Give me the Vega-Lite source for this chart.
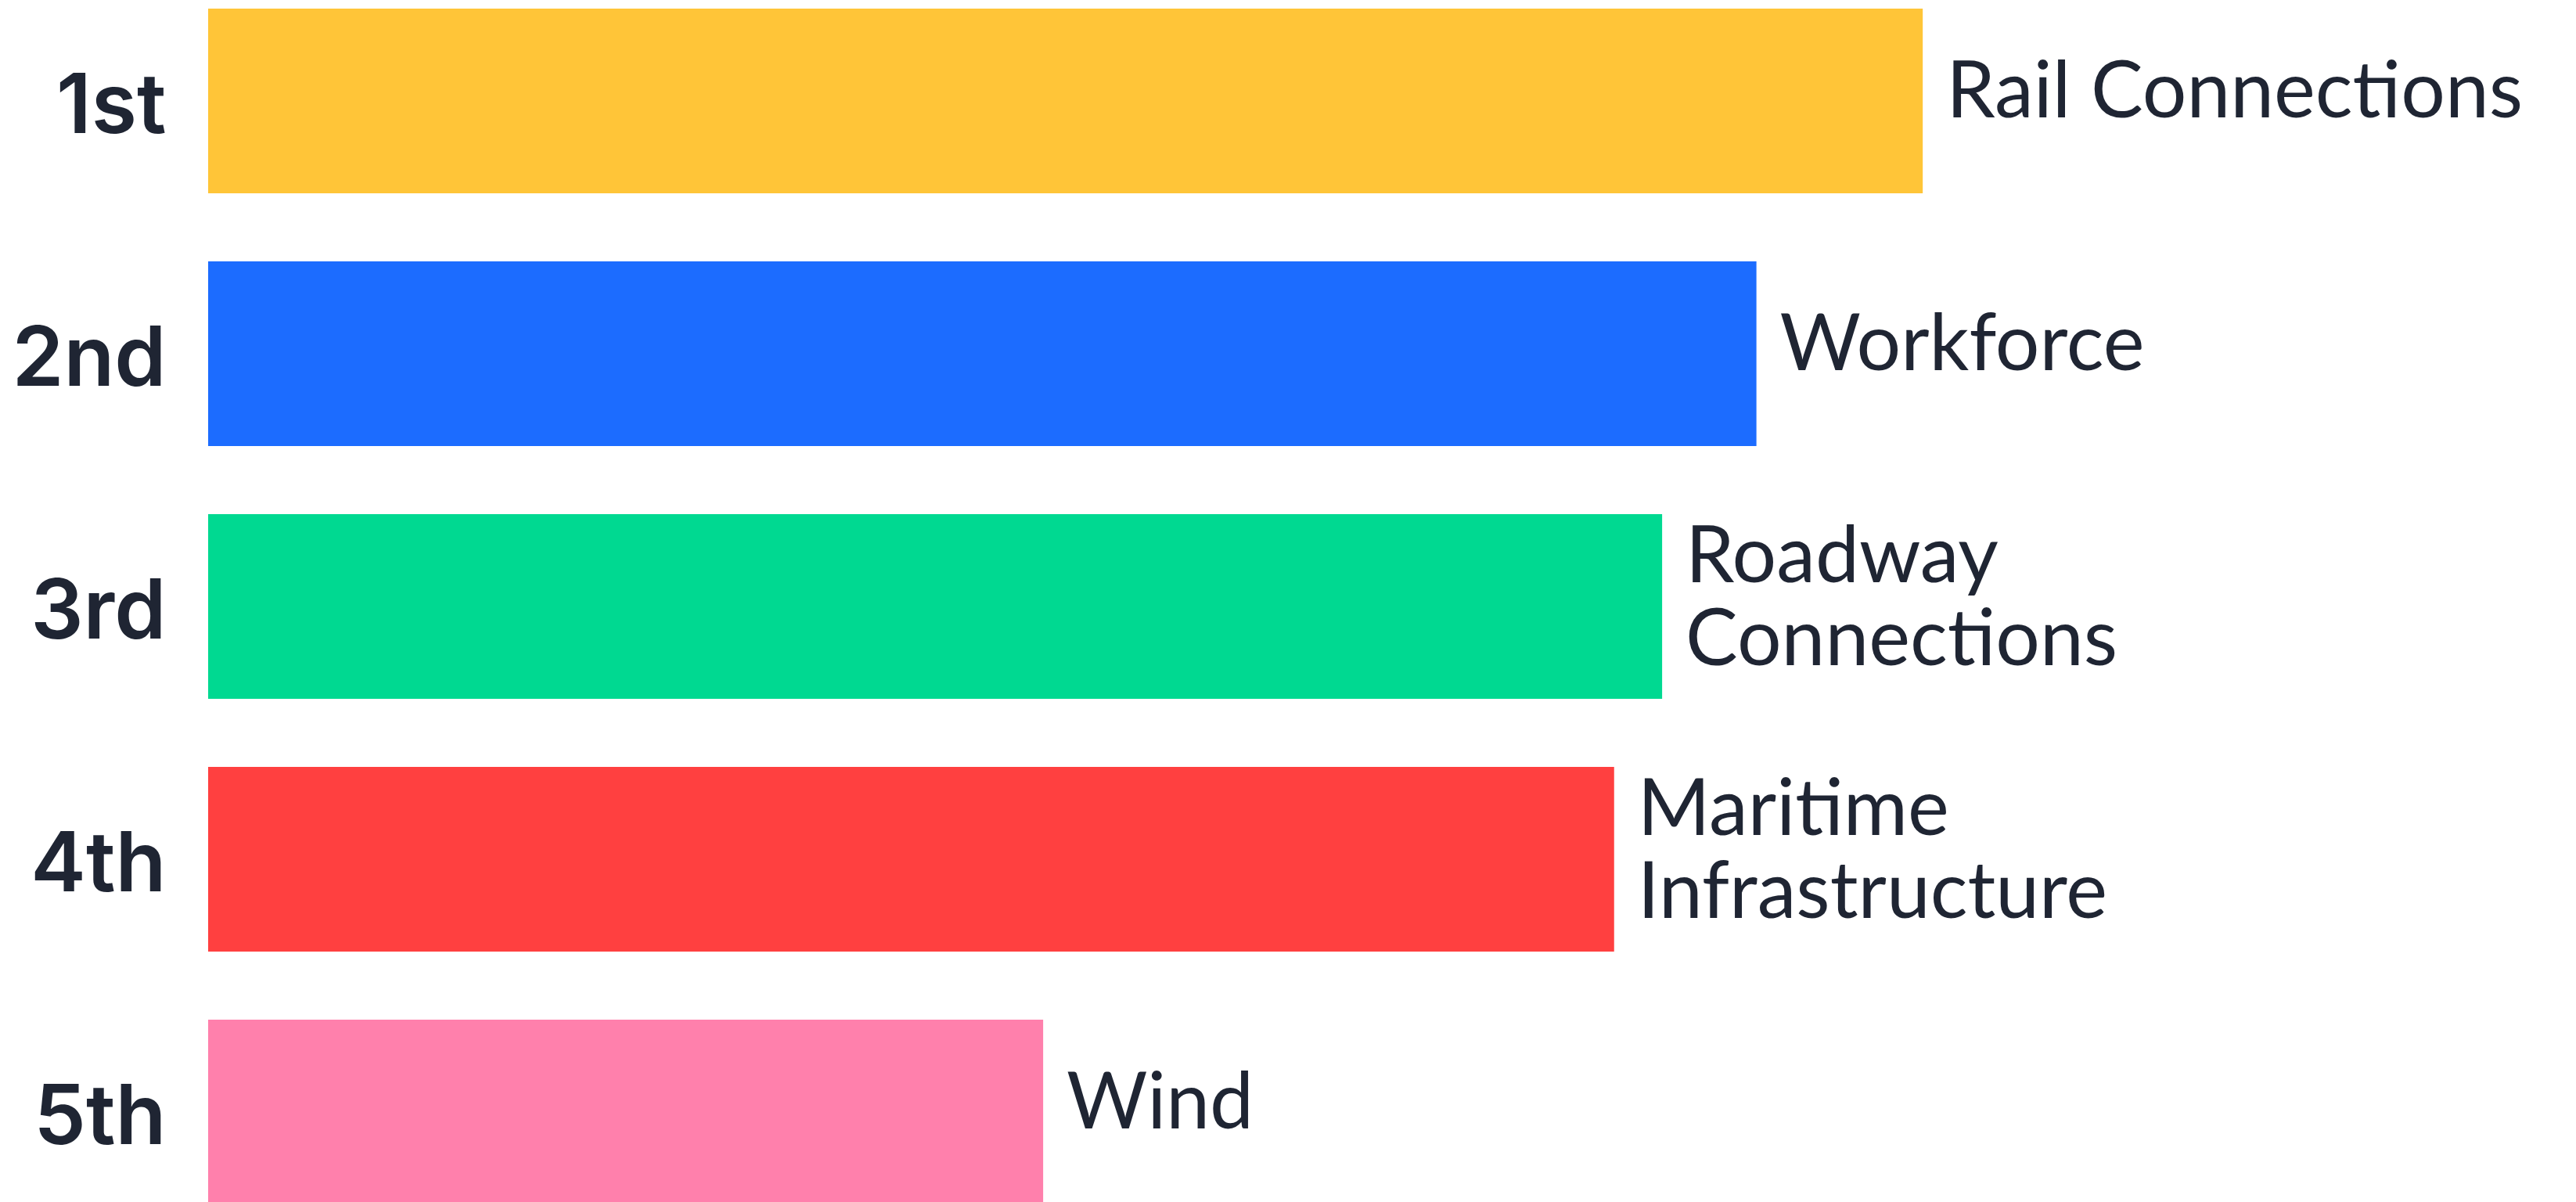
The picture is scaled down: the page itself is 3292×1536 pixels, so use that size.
{
  "$schema": "https://vega.github.io/schema/vega-lite/v6.json",
  "autosize": {"type": "none"},
  "padding": {"left": 266, "top": 0, "right": 0, "bottom": 0},
  "width": 3026,
  "height": 1550,
  "background": "#ffffff",
  "config": {"view": {"stroke": null}},
  "data": {
    "values": [
      {"rank": "1st", "category": "Rail Connections", "score": 100, "color": "#FFC538"},
      {"rank": "2nd", "category": "Workforce", "score": 90.3, "color": "#1C6CFF"},
      {"rank": "3rd", "category": "Roadway\nConnections", "score": 84.8, "color": "#00D991"},
      {"rank": "4th", "category": "Maritime\nInfrastructure", "score": 82.0, "color": "#FF4040"},
      {"rank": "5th", "category": "Wind", "score": 48.7, "color": "#FF80AC"}
    ]
  },
  "encoding": {
    "y": {
      "field": "rank",
      "type": "nominal",
      "sort": null,
      "scale": {"paddingInner": 0.269, "paddingOuter": 0.034},
      "axis": {
        "title": null,
        "ticks": false,
        "domain": false,
        "grid": false,
        "labelFont": "Inter",
        "labelFontWeight": 600,
        "labelFontSize": 106,
        "labelColor": "#1F2533",
        "labelPadding": 54,
        "labelLimit": 0,
        "labelBaseline": "middle",
        "labelOffset": 9
      }
    },
    "x": {
      "field": "score",
      "type": "quantitative",
      "scale": {"domain": [0, 138.1], "nice": false, "zero": true},
      "axis": null
    }
  },
  "layer": [
    {
      "mark": {"type": "bar", "cornerRadius": 0},
      "encoding": {
        "color": {"field": "color", "type": "nominal", "scale": null, "legend": null}
      }
    },
    {
      "transform": [{"filter": "!test(/\\n/, datum.category)"}],
      "mark": {
        "type": "text",
        "align": "left",
        "baseline": "middle",
        "dx": 30,
        "dy": -9,
        "font": "Lato",
        "fontSize": 100,
        "color": "#1F2533"
      },
      "encoding": {
        "text": {"field": "category", "type": "nominal"}
      }
    },
    {
      "transform": [{"filter": "test(/\\n/, datum.category)"}],
      "mark": {
        "type": "text",
        "align": "left",
        "baseline": "middle",
        "dx": 30,
        "dy": -61,
        "font": "Lato",
        "fontSize": 100,
        "lineHeight": 106,
        "lineBreak": "\n",
        "color": "#1F2533"
      },
      "encoding": {
        "text": {"field": "category", "type": "nominal"}
      }
    }
  ]
}
